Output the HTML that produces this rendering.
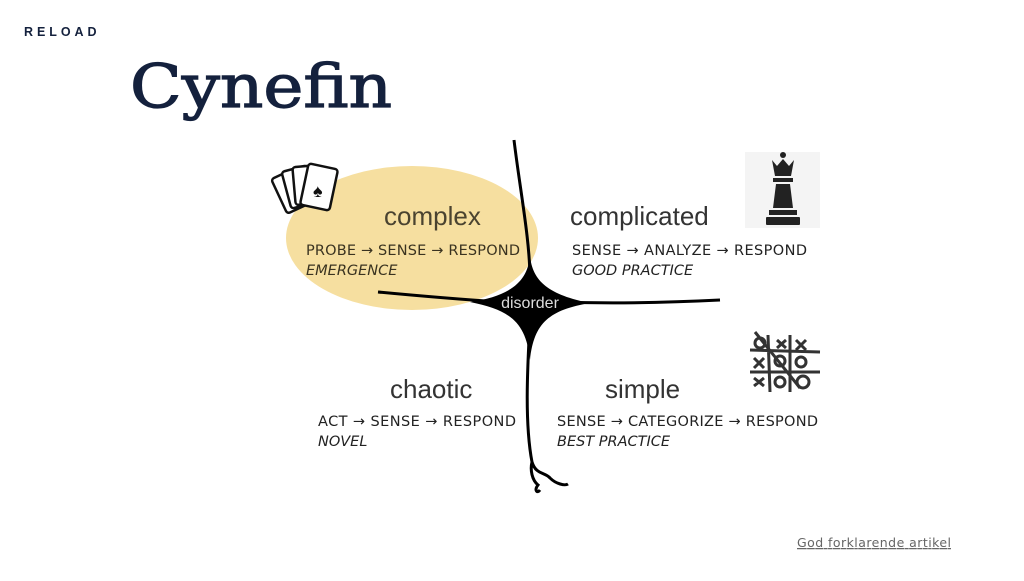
<!DOCTYPE html>
<html><head><meta charset="utf-8"><style>
html,body{margin:0;padding:0;background:#fff}
body{width:1024px;height:576px;position:relative;overflow:hidden;font-family:"Liberation Sans",sans-serif}
</style></head><body>
<svg width="1024" height="576" viewBox="0 0 1024 576" xmlns="http://www.w3.org/2000/svg">
<text x="24" y="36" font-family="Liberation Sans" font-size="12.5" fill="#14213d" letter-spacing="4.5" font-weight="bold" textLength="77">RELOAD</text>
<text x="130" y="107" font-family="DejaVu Serif" font-size="60" fill="#14213d" stroke="#14213d" stroke-width="1.2" textLength="262" lengthAdjust="spacingAndGlyphs">Cynefin</text>

<ellipse cx="412" cy="238" rx="126" ry="72" fill="#f6dfa0"/>

<path d="M514 140 C520 190 530 240 530 280" stroke="#000" stroke-width="3" fill="none"/>
<path d="M530 320 C528 360 524 420 532 462 C536 475 545 472 550 478 C556 484 565 486 568 484 M532 462 C530 470 532 480 538 485 C534 490 537 494 540 490" stroke="#000" stroke-width="3" fill="none"/>
<path d="M378 292 C420 296 470 300 500 302" stroke="#000" stroke-width="3" fill="none"/>
<path d="M560 302 C620 304 680 302 720 300" stroke="#000" stroke-width="3" fill="none"/>
<path d="M530 255 C532 282 550 295 590 303 C550 310 534 322 530 360 C526 322 510 310 470 302 C510 296 528 282 530 255 Z" fill="#000"/>
<text x="530" y="308" font-size="16" fill="#ddd" text-anchor="middle">disorder</text>

<g font-family="Liberation Sans" font-size="26" fill="#333">
<text x="384" y="225" fill="#4a4330">complex</text>
<text x="570" y="225">complicated</text>
<text x="390" y="398">chaotic</text>
<text x="605" y="398">simple</text>
</g>
<g font-family="DejaVu Sans" font-size="14.5" fill="#222">
<text x="306" y="255" fill="#3a3320" textLength="214">PROBE → SENSE → RESPOND</text>
<text x="306" y="275" font-style="italic" fill="#3a3320">EMERGENCE</text>
<text x="572" y="255" textLength="235">SENSE →  ANALYZE → RESPOND</text>
<text x="572" y="275" font-style="italic">GOOD PRACTICE</text>
<text x="318" y="426" textLength="198">ACT →  SENSE → RESPOND</text>
<text x="318" y="446" font-style="italic">NOVEL</text>
<text x="557" y="426" textLength="261">SENSE →  CATEGORIZE → RESPOND</text>
<text x="557" y="446" font-style="italic">BEST PRACTICE</text>
</g>

<g stroke="#111" stroke-width="2.5" fill="#fff">
<rect x="278" y="172" width="26" height="38" rx="3" transform="rotate(-25 291 191)"/>
<rect x="286" y="168" width="26" height="38" rx="3" transform="rotate(-15 299 187)"/>
<rect x="294" y="166" width="26" height="38" rx="3" transform="rotate(-5 307 185)"/>
<rect x="304" y="166" width="30" height="42" rx="3" transform="rotate(12 319 187)"/>
</g>
<text x="313" y="197" font-size="18" fill="#111">♠</text>

<rect x="745" y="152" width="75" height="76" fill="#f4f4f4"/>
<g fill="#222">
<circle cx="783" cy="155" r="3"/>
<path d="M772 160 L777 166 L783 159 L789 166 L794 160 L791 176 L775 176 Z"/>
<rect x="773" y="178" width="20" height="4"/>
<path d="M776 184 L790 184 L793 208 L773 208 Z"/>
<rect x="769" y="210" width="28" height="5"/>
<rect x="766" y="217" width="34" height="8" rx="1"/>
</g>

<g stroke="#333" stroke-width="3" fill="none">
<path d="M750 350 L820 352 M750 372 L820 372 M768 335 L770 392 M790 335 L790 392"/>
<path d="M755 332 L800 388"/>
<path d="M777 340 L786 348 M786 340 L777 348 M796 340 L806 350 M806 340 L796 350 M754 358 L764 368 M764 358 L754 368 M754 378 L764 386 M764 378 L754 386"/>
<circle cx="780" cy="361" r="5"/><circle cx="801" cy="362" r="5"/><circle cx="780" cy="382" r="5"/><circle cx="803" cy="382" r="6"/><circle cx="760" cy="343" r="5"/>
</g>

<text x="797" y="547" font-family="DejaVu Sans" font-size="12.5" fill="#666" text-decoration="underline" textLength="154">God forklarende artikel</text>
</svg>
</body></html>
